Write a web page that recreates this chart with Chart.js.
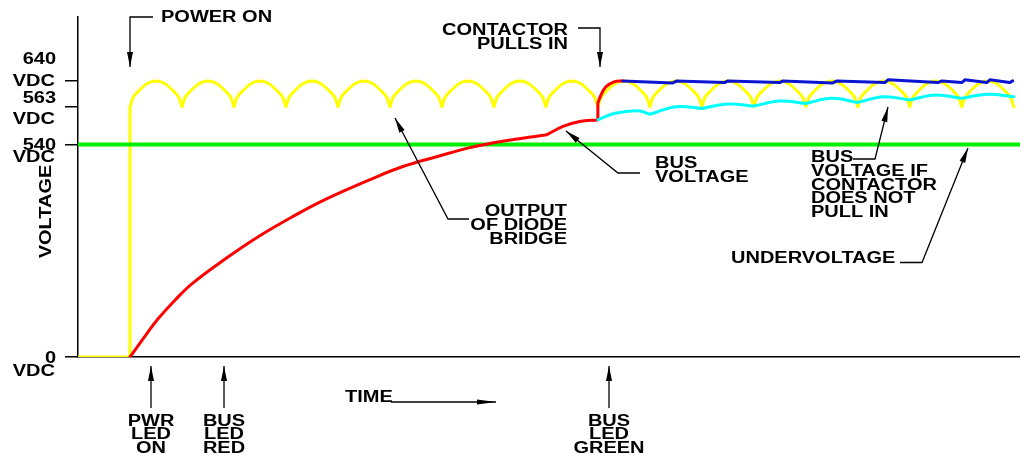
<!DOCTYPE html>
<html>
<head>
<meta charset="utf-8">
<title>Bus voltage at power on</title>
<script src="https://cdn.jsdelivr.net/npm/chart.js@4.4.1/dist/chart.umd.min.js"></script>
<style>
  html, body { margin: 0; padding: 0; background: #fff; }
  #wrap { width: 1020px; height: 454px; }
</style>
</head>
<body>
<div id="wrap"><canvas id="bus_voltage"></canvas></div>
<script>
// time is counted in ripple half-cycles of the bridge output, voltage in VDC.
// corner / cusp points are listed twice so the curve keeps a sharp corner there
var diodeBridge = [
  [0, 0], [1, 0], [1, 0], [1, 563], [1, 563],
  [1.1, 600], [1.5, 640], [1.9, 600], [2, 563], [2, 563],
  [2.1, 600], [2.5, 640], [2.9, 600], [3, 563], [3, 563],
  [3.1, 600], [3.5, 640], [3.9, 600], [4, 563], [4, 563],
  [4.1, 600], [4.5, 640], [4.9, 600], [5, 563], [5, 563],
  [5.1, 600], [5.5, 640], [5.9, 600], [6, 563], [6, 563],
  [6.1, 600], [6.5, 640], [6.9, 600], [7, 563], [7, 563],
  [7.1, 600], [7.5, 640], [7.9, 600], [8, 563], [8, 563],
  [8.1, 600], [8.5, 640], [8.9, 600], [9, 563], [9, 563],
  [9.1, 600], [9.5, 640], [9.9, 600], [10, 563], [10, 563],
  [10.1, 600], [10.5, 640], [10.9, 600], [11, 563], [11, 563],
  [11.1, 600], [11.5, 640], [11.9, 600], [12, 563], [12, 563],
  [12.1, 600], [12.5, 640], [12.9, 600], [13, 563], [13, 563],
  [13.1, 600], [13.5, 640], [13.9, 600], [14, 563], [14, 563],
  [14.1, 600], [14.5, 640], [14.9, 600], [15, 563], [15, 563],
  [15.1, 600], [15.5, 640], [15.9, 600], [16, 563], [16, 563],
  [16.1, 600], [16.5, 640], [16.9, 600], [17, 563], [17, 563],
  [17.1, 600], [17.5, 640], [17.9, 600], [18, 563]
];
var busVoltage = [
  [1, 0], [1.29, 53], [1.54, 97], [1.87, 145], [2.19, 186], [2.83, 249], [3.46, 305], [4.12, 356],
  [4.75, 400], [5.71, 456], [6.25, 484], [6.9, 509], [7.54, 532], [8.17, 542], [9.02, 546], [9.02, 546],
  [9.33, 551], [9.65, 554], [10, 555], [10, 555], [10, 574], [10, 574],
  [10.06, 598], [10.15, 622], [10.31, 637], [10.48, 640]
];
var busContactorIn = [
  [10.48, 640], [11.44, 634], [11.52, 640], [12.44, 635], [12.5, 640], [13.5, 635], [13.56, 640],
  [14.52, 634], [14.6, 640], [15.52, 635], [15.58, 641], [16.54, 635], [16.62, 640], [17, 635],
  [17.06, 641], [17.48, 635], [17.54, 641], [17.92, 635], [17.98, 640]
];
var busNoContactor = [
  [10, 555], [10.33, 559], [10.77, 560.6], [11, 558.4], [11, 558.4], [11.5, 563], [12, 562], [12, 562],
  [12.5, 571], [13, 565], [13, 565], [13.5, 580], [14, 573], [14, 573], [14.5, 588], [15, 576], [15, 576],
  [15.5, 593], [16, 583], [16, 583], [16.5, 598], [17, 588], [17, 588], [17.5, 600], [18, 593]
];
var underVoltage = [[0, 540], [18.12, 540]];

var voltTicks = [0, 540, 563, 640];
var voltTickLabels = [['0', 'VDC'], ['540', 'VDC'], ['563', 'VDC'], ['640', 'VDC']];

// the voltage axis is not to scale: [value, fraction of axis height]
var axisBreaks = [[0, 0], [540, 0.625], [563, 0.736], [640, 0.812], [700, 1]];

class BrokenScale extends Chart.LinearScale {
  toDecimal(v) {
    var b = axisBreaks, i = 1;
    while (i < b.length - 1 && v > b[i][0]) i++;
    var a = b[i - 1], c = b[i];
    return a[1] + (v - a[0]) / (c[0] - a[0]) * (c[1] - a[1]);
  }
  getPixelForValue(v) {
    if (v === null || v === undefined) return NaN;
    return this.getPixelForDecimal(this.toDecimal(v));
  }
  getValueForPixel(p) {
    var d = this.getDecimalForPixel(p), b = axisBreaks, i = 1;
    while (i < b.length - 1 && d > b[i][1]) i++;
    var a = b[i - 1], c = b[i];
    return a[0] + (d - a[1]) / (c[1] - a[1]) * (c[0] - a[0]);
  }
}
BrokenScale.id = 'broken';
BrokenScale.defaults = Chart.LinearScale.defaults;
Chart.register(BrokenScale);

var FONT = 'bold 16px "Liberation Sans", Arial, sans-serif';
var STRETCH = 1.25;

// [number offset, VDC offset] from the tick, px
var tickLabelOffsets = [[0, 13.5], [0, 11.5], [-9, 12], [-23, -1]];

var notes = [
  { lines: ['POWER ON'], x: 161, y: 16.5, align: 'left', path: [[153, 17], [130, 17], [130, 67]] },
  { lines: ['CONTACTOR', 'PULLS IN'], x: 568, y: 29.5, align: 'right', path: [[578, 28], [600, 28], [600, 67]] },
  { lines: ['OUTPUT', 'OF DIODE', 'BRIDGE'], x: 567, y: 210, gap: 14, align: 'right', path: [[469, 219], [448, 219], [395, 118]] },
  { lines: ['BUS', 'VOLTAGE'], x: 655, y: 162.5, align: 'left', path: [[640, 173], [618, 173], [566, 131]] },
  { lines: ['BUS', 'VOLTAGE IF', 'CONTACTOR', 'DOES NOT', 'PULL IN'], x: 811, y: 156.7, align: 'left', path: [[853, 159], [875, 159], [888, 107]] },
  { lines: ['UNDERVOLTAGE'], x: 731, y: 257.7, align: 'left', path: [[900, 262.5], [922, 262.5], [968, 148]] },
  { lines: ['PWR', 'LED', 'ON'], x: 151, y: 420, align: 'center', path: [[151, 408], [151, 366]] },
  { lines: ['BUS', 'LED', 'RED'], x: 224, y: 420, align: 'center', path: [[224, 408], [224, 366]] },
  { lines: ['BUS', 'LED', 'GREEN'], x: 609, y: 420, align: 'center', path: [[609, 408], [609, 366]] },
  { lines: ['TIME'], x: 345, y: 396, align: 'left', path: [[391, 402], [496, 402]], head: [19, 2.5] }
];

function wideText(ctx, text, x, y, align, rot) {
  ctx.save();
  ctx.translate(x, y);
  if (rot) ctx.rotate(rot);
  ctx.scale(STRETCH, 1);
  ctx.font = FONT;
  ctx.fillStyle = '#000';
  ctx.textAlign = align;
  ctx.textBaseline = 'alphabetic';
  ctx.fillText(text, 0, 5.7);
  ctx.restore();
}

function arrow(ctx, pts, head) {
  var len = head ? head[0] : 15, half = head ? head[1] : 3;
  ctx.save();
  ctx.strokeStyle = '#000';
  ctx.fillStyle = '#000';
  ctx.lineWidth = 1.3;
  ctx.beginPath();
  ctx.moveTo(pts[0][0], pts[0][1]);
  for (var i = 1; i < pts.length; i++) ctx.lineTo(pts[i][0], pts[i][1]);
  ctx.stroke();
  var a = pts[pts.length - 2], b = pts[pts.length - 1];
  ctx.translate(b[0], b[1]);
  ctx.rotate(Math.atan2(b[1] - a[1], b[0] - a[0]));
  ctx.beginPath();
  ctx.moveTo(0, 0);
  ctx.lineTo(-len, -half);
  ctx.lineTo(-len, half);
  ctx.closePath();
  ctx.fill();
  ctx.restore();
}

var labelsPlugin = {
  id: 'schematicLabels',
  afterDraw: function (chart) {
    var ctx = chart.ctx, y = chart.scales.y;
    voltTicks.forEach(function (v, i) {
      var py = y.getPixelForValue(v);
      wideText(ctx, voltTickLabels[i][0], 56, py + tickLabelOffsets[i][0], 'right');
      wideText(ctx, voltTickLabels[i][1], 55, py + tickLabelOffsets[i][1], 'right');
    });
    wideText(ctx, 'VOLTAGE', 45, 211.5, 'center', -Math.PI / 2);
    notes.forEach(function (n) {
      var gap = n.gap || 13.6;
      n.lines.forEach(function (t, k) { wideText(ctx, t, n.x, n.y + k * gap, n.align); });
      arrow(ctx, n.path, n.head);
    });
  }
};

function pts(arr) { return arr.map(function (p) { return { x: p[0], y: p[1] }; }); }

var ctx = document.getElementById('bus_voltage').getContext('2d');
var chart = new Chart(ctx, {
  type: 'line',
  data: {
    datasets: [
      { label: 'Bus voltage, contactor in', data: pts(busContactorIn), borderColor: '#0a14d2', borderWidth: 3, tension: 0 },
      { label: 'Bus voltage if contactor does not pull in', data: pts(busNoContactor), borderColor: '#00ffff', borderWidth: 3, tension: 0.4 },
      { label: 'Bus voltage', data: pts(busVoltage), borderColor: '#ff0000', borderWidth: 3, tension: 0.4 },
      { label: 'Undervoltage', data: pts(underVoltage), borderColor: '#00f000', borderWidth: 4, tension: 0 },
      { label: 'Output of diode bridge', data: pts(diodeBridge), borderColor: '#ffff00', borderWidth: 3, tension: 0.4 }
    ]
  },
  options: {
    responsive: true,
    maintainAspectRatio: false,
    animation: false,
    events: [],
    layout: { padding: { top: 17, left: 0, right: 0, bottom: 0 } },
    elements: { point: { radius: 0 }, line: { borderCapStyle: 'round', borderJoinStyle: 'round' } },
    plugins: { legend: { display: false }, tooltip: { enabled: false } },
    scales: {
      x: {
        type: 'linear',
        min: 0,
        max: 18.12,
        grid: { display: false },
        ticks: { display: false },
        border: { display: true, color: '#000', width: 1.5 },
        afterFit: function (s) { s.height = 97; }
      },
      y: {
        type: 'broken',
        position: 'left',
        min: 0,
        max: 700,
        afterBuildTicks: function (s) { s.ticks = voltTicks.map(function (v) { return { value: v }; }); },
        grid: { display: true, drawOnChartArea: false, drawTicks: true, tickLength: 13, color: '#000', lineWidth: 1.5 },
        ticks: { display: false },
        border: { display: true, color: '#000', width: 1.5 },
        afterFit: function (s) { s.width = 78; }
      }
    }
  },
  plugins: [labelsPlugin]
});
</script>
</body>
</html>
